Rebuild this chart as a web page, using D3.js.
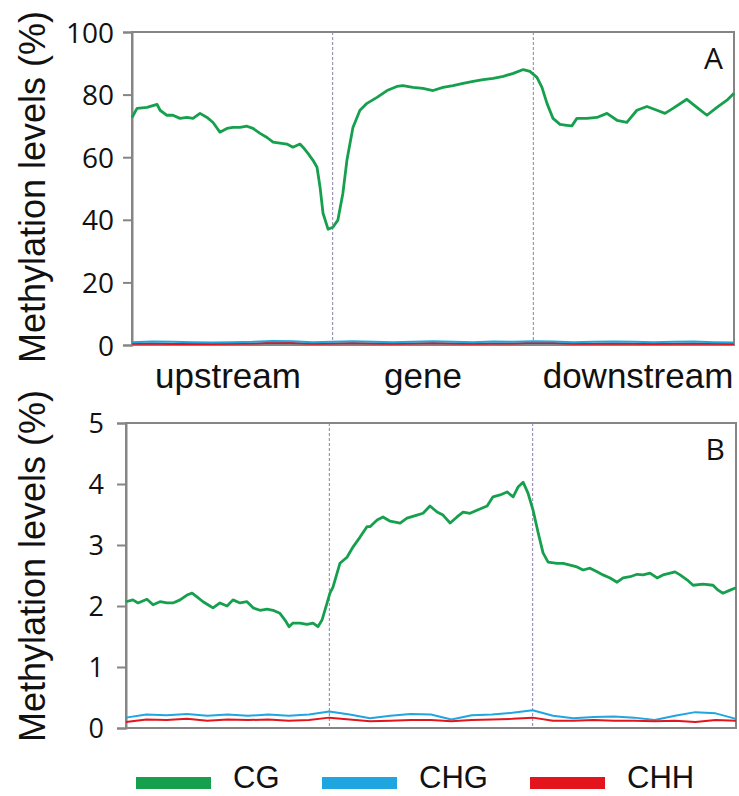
<!DOCTYPE html>
<html>
<head>
<meta charset="utf-8">
<script src="https://cdn.jsdelivr.net/npm/d3@7"></script>
<style>
  html, body { margin: 0; padding: 0; background: #fff; }
  svg { display: block; }
</style>
</head>
<body>
<svg id="chart" width="739" height="796"></svg>
<script>
// ---------------- DATA ----------------
const regionLabels = ["upstream", "gene", "downstream"];
const regionBounds = [100, 200];           // positions of dashed region boundaries
const seriesNames = ["CG", "CHG", "CHH"];
const panelLetters = ["A", "B"];
const ticksA = [0, 20, 40, 60, 80, 100];
const ticksB = [0, 1, 2, 3, 4, 5];

// Panel A, CG
const cgA_x = [0,2.5,7.5,12.5,14,17.4,20.4,23.9,27.4,30.4,33.9,37.4,40.4,43.8,47.3,50.3,53.8,57.3,60.3,63.8,67.3,70.3,73.7,77.2,80.2,83.7,85.2,87.7,90.2,92.2,93.7,95.2,97.7,100.1,102.6,105.1,107.1,110.1,113.6,117.1,122.1,127.1,132,135,140,145,150,155,160,165,170,175,180,185,190,195,198.3,201.8,204.3,206.8,209.8,213.3,216.7,219.2,221.7,226.7,231.7,236.7,241.7,246.6,251.6,256.6,261.6,265.6,269.6,276.5,281.5,286.5,291.5,296.5,300];
const cgA_y = [72.7,75.6,75.9,76.9,75,73.4,73.4,72.4,72.7,72.4,74,72.7,71.1,68,69.2,69.5,69.5,69.9,69.2,67.6,66.3,64.8,64.5,64.2,63.2,64.2,63.2,61.2,59,56.8,50.5,42.1,37,37.6,39.9,48.5,59,69.5,75,77.2,79.1,81.3,82.6,82.9,82.3,82,81.3,82.3,82.9,83.6,84.2,84.8,85.2,85.8,86.8,88,87.4,85.5,82.3,77.2,72.4,70.5,70.2,70,72.4,72.4,72.7,74,71.8,71.1,75,76.2,75,74,75.6,78.5,75.9,73.4,75.9,78.2,80.4];

// Panel A, CHG and CHH (every 10 positions)
const lowA_x = [0,10,20,30,40,50,60,70,80,90,100,110,120,130,140,150,160,170,180,190,200,210,220,230,240,250,260,270,280,290,300];
const chgA_y = [0.9,1.1,1.0,0.9,0.8,0.9,1.0,1.3,1.2,0.9,1.0,1.2,1.0,0.9,1.0,1.2,1.0,0.9,1.1,1.0,1.2,1.1,0.9,1.0,1.1,1.0,0.9,1.0,1.1,0.9,0.8];
const chhA_y = [0.4,0.5,0.3,0.4,0.3,0.4,0.5,0.7,0.6,0.4,0.5,0.6,0.5,0.4,0.5,0.6,0.5,0.4,0.5,0.5,0.7,0.6,0.4,0.4,0.5,0.4,0.3,0.4,0.5,0.4,0.3];

// Panel B, CG
const cgB_x = [0,3.4,5.9,10.3,13.3,16.7,20.2,23.1,26.6,30,32.5,34.9,37.9,41.3,42.8,46.2,49.7,52.6,56.1,59.5,62.5,65.9,69.4,72.3,75.7,78.2,80.2,82.1,85.6,89,92,94.4,96.4,98.9,100.3,101.8,105.2,108.7,111.7,115.1,118.5,120,123.5,126.4,129.9,134.8,138.2,143.1,146.1,149.5,153,155.9,159.4,162.8,165.8,169.2,172.6,177.6,180.5,184,187.4,190.4,192.8,195.3,197.7,200.2,202.7,205.1,207.6,212,215,218.4,221.8,224.8,228.2,231.7,234.6,238.1,241.5,244.5,247.9,251.4,254.3,257.7,261.2,264.1,267.6,270,272.5,275.9,278.9,283.8,288.7,291.2,293.6,297.1,300];
const cgB_y = [2.07,2.1,2.05,2.11,2.02,2.07,2.05,2.05,2.1,2.18,2.21,2.15,2.07,2.0,1.97,2.05,2.0,2.1,2.05,2.07,1.97,1.93,1.95,1.93,1.88,1.77,1.66,1.72,1.72,1.7,1.72,1.66,1.77,2.05,2.21,2.31,2.7,2.8,2.97,3.13,3.3,3.3,3.41,3.46,3.39,3.36,3.44,3.49,3.52,3.64,3.54,3.49,3.36,3.46,3.54,3.52,3.57,3.64,3.79,3.82,3.87,3.79,3.95,4.03,3.85,3.57,3.2,2.87,2.72,2.7,2.7,2.67,2.64,2.59,2.62,2.56,2.51,2.46,2.39,2.46,2.48,2.52,2.51,2.54,2.46,2.51,2.54,2.56,2.51,2.43,2.34,2.36,2.34,2.26,2.21,2.26,2.3];

// Panel B, CHG and CHH (every 10 positions)
const lowB_x = [0,10,20,30,40,50,60,70,80,90,100,110,120,130,140,150,160,170,180,190,200,210,220,230,240,250,260,270,280,290,300];
const chgB_y = [0.17,0.22,0.21,0.23,0.20,0.22,0.20,0.22,0.20,0.22,0.27,0.22,0.16,0.20,0.23,0.22,0.14,0.21,0.22,0.25,0.29,0.20,0.16,0.18,0.19,0.17,0.13,0.20,0.26,0.24,0.15];
const chhB_y = [0.10,0.14,0.13,0.15,0.12,0.14,0.13,0.14,0.12,0.13,0.17,0.14,0.11,0.12,0.13,0.13,0.11,0.13,0.14,0.15,0.17,0.12,0.12,0.13,0.12,0.12,0.11,0.12,0.10,0.13,0.12];

// ---------------- STYLE ----------------
const colors = { CG: "#16a04e", CHG: "#1fa6e0", CHH: "#e3141c" };
const frameColor = "#858585";
const dashColor = "#8c80aa";
const sansFont = "'Liberation Sans', Arial, sans-serif";
const tickFont = "'Open Sans', 'Liberation Sans', sans-serif";

const svg = d3.select("#chart");

function zip(xs, ys) { return xs.map((x, i) => ({ x, y: ys[i] })); }

function drawPanel(opt) {
  const x = d3.scaleLinear().domain([0, 300]).range([opt.left, opt.right]);
  const y = d3.scaleLinear().domain([0, opt.max]).range([opt.bottom, opt.top]);
  const g = svg.append("g");

  // frame
  g.append("rect")
    .attr("x", opt.left).attr("y", opt.top)
    .attr("width", opt.right - opt.left).attr("height", opt.bottom - opt.top)
    .attr("fill", "#fff").attr("stroke", frameColor).attr("stroke-width", 2);

  // y axis with ticks
  const axis = d3.axisLeft(y).tickValues(opt.ticks).tickSize(9).tickPadding(opt.tickPad).tickFormat(d3.format("d"));
  const ax = g.append("g").attr("transform", `translate(${opt.left},0)`).call(axis);
  ax.select(".domain").attr("stroke", frameColor).attr("stroke-width", 2);
  ax.selectAll(".tick line").attr("stroke", frameColor).attr("stroke-width", 2);
  ax.selectAll(".tick text")
    .attr("font-family", tickFont).attr("font-size", opt.tickSize)
    .attr("fill", "#111").attr("dy", "0.36em");

  // dashed boundaries
  g.selectAll("line.bound").data(regionBounds).enter().append("line")
    .attr("x1", d => x(d)).attr("x2", d => x(d))
    .attr("y1", opt.top).attr("y2", opt.bottom)
    .attr("stroke", dashColor).attr("stroke-width", 1)
    .attr("stroke-dasharray", "3,2");

  const line = d3.line().x(d => x(d.x)).y(d => y(d.y));

  opt.series.forEach(s => {
    g.append("path").datum(zip(s.xs, s.ys))
      .attr("d", line).attr("fill", "none")
      .attr("stroke", colors[s.name]).attr("stroke-width", s.w)
      .attr("stroke-linejoin", "round");
  });

  // panel letter
  g.append("text").attr("x", opt.right - 11).attr("y", opt.top + 37)
    .attr("text-anchor", "end").attr("font-family", tickFont).attr("font-size", 30)
    .attr("fill", "#111").text(opt.letter);

  // y label
  g.append("text")
    .attr("transform", `translate(${opt.labelX},${opt.labelY}) rotate(-90)`)
    .attr("text-anchor", "middle").attr("font-family", sansFont).attr("font-size", 36)
    .attr("fill", "#111").text("Methylation levels (%)");
  return x;
}

drawPanel({
  left: 132, right: 734, top: 32, bottom: 345, max: 100, ticks: ticksA,
  tickSize: 28, tickPad: 9, letter: panelLetters[0], labelX: 45, labelY: 187,
  series: [
    { name: "CG", xs: cgA_x, ys: cgA_y, w: 2.8 },
    { name: "CHH", xs: lowA_x, ys: chhA_y, w: 2 },
    { name: "CHG", xs: lowA_x, ys: chgA_y, w: 2 }
  ]
});

drawPanel({
  left: 126, right: 736, top: 423, bottom: 728, max: 5, ticks: ticksB,
  tickSize: 27, tickPad: 13, letter: panelLetters[1], labelX: 45, labelY: 566,
  series: [
    { name: "CG", xs: cgB_x, ys: cgB_y, w: 2.8 },
    { name: "CHG", xs: lowB_x, ys: chgB_y, w: 2 },
    { name: "CHH", xs: lowB_x, ys: chhB_y, w: 2 }
  ]
});

// region labels under panel A
const regionX = [228, 423, 638];
svg.selectAll("text.region").data(regionLabels).enter().append("text")
  .attr("x", (d, i) => regionX[i]).attr("y", 388)
  .attr("text-anchor", "middle").attr("font-family", sansFont).attr("font-size", 35)
  .attr("fill", "#111").text(d => d);

// legend
const legendX = [136, 322, 530];
const leg = svg.selectAll("g.leg").data(seriesNames).enter().append("g")
  .attr("transform", (d, i) => `translate(${legendX[i]},783)`);
leg.append("rect").attr("x", 0).attr("y", -6).attr("width", 75).attr("height", 12)
  .attr("fill", d => colors[d]);
leg.append("text").attr("x", 97).attr("y", 5)
  .attr("font-family", sansFont).attr("font-size", 31).attr("fill", "#111")
  .text(d => d);
</script>
</body>
</html>
